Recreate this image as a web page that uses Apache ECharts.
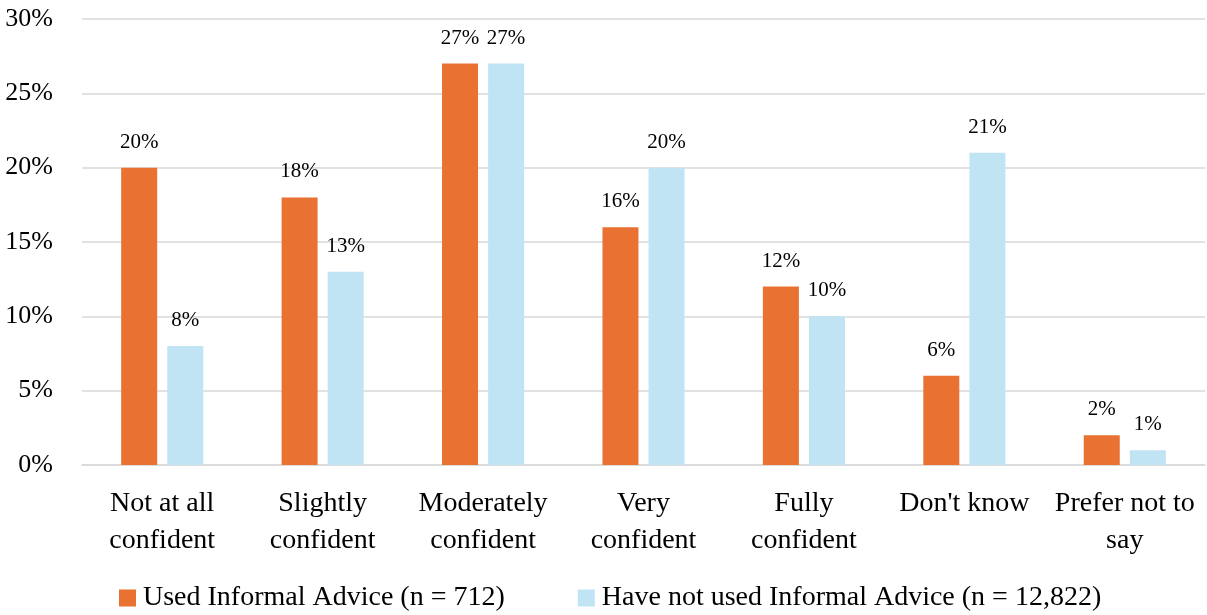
<!DOCTYPE html>
<html>
<head>
<meta charset="utf-8">
<script src="https://cdn.jsdelivr.net/npm/echarts@6/dist/echarts.min.js"></script>
<style>html,body{margin:0;padding:0;background:#fff;}#c{width:1207px;height:615px;}</style>
</head>
<body>
<div id="c"></div>
<script>
const categories = ["Not at all\nconfident", "Slightly\nconfident", "Moderately\nconfident", "Very\nconfident", "Fully\nconfident", "Don't know", "Prefer not to\nsay"];
const seriesNames = ["Used Informal Advice (n = 712)", "Have not used Informal Advice (n = 12,822)"];
const usedValues = [20, 18, 27, 16, 12, 6, 2];
const notUsedValues = [8, 13, 27, 20, 10, 21, 1];
const yTicks = [0, 5, 10, 15, 20, 25, 30];

const FONT = '"Liberation Serif", serif';
const chart = echarts.init(document.getElementById('c'), null, {renderer: 'canvas'});
const labelCfg = {show: true, position: 'top', distance: 15, fontFamily: FONT, fontSize: 21, color: '#000', formatter: p => p.value + '%'};
chart.setOption({
  animation: false,
  textStyle: {fontFamily: FONT},
  grid: {left: 82, right: 2, top: 19, bottom: 150, containLabel: false},
  legend: {
    top: 583, left: 119, padding: 0,
    itemWidth: 17, itemHeight: 17, itemGap: 73,
    textStyle: {fontFamily: FONT, fontSize: 28, lineHeight: 30, color: '#000', padding: [0, 0, 0, 2]},
    data: seriesNames.map(n => ({name: n, icon: 'rect'}))
  },
  xAxis: {
    type: 'category', data: categories,
    axisLine: {show: true, lineStyle: {color: '#D9D9D9', width: 1.5}},
    axisTick: {show: false},
    axisLabel: {fontFamily: FONT, fontSize: 28, color: '#000', lineHeight: 37, margin: 20, interval: 0}
  },
  yAxis: {
    type: 'value', min: yTicks[0], max: yTicks[yTicks.length - 1], interval: 5,
    axisLine: {show: false}, axisTick: {show: false},
    splitLine: {lineStyle: {color: '#D9D9D9', width: 1.5}},
    axisLabel: {fontFamily: FONT, fontSize: 26, color: '#000', margin: 29, formatter: v => v + '%'}
  },
  series: [
    {name: seriesNames[0], type: 'bar', data: usedValues, barWidth: 36, barGap: '28%', itemStyle: {color: '#E97132'}, label: labelCfg},
    {name: seriesNames[1], type: 'bar', data: notUsedValues, barWidth: 36, itemStyle: {color: '#C1E4F5'}, label: labelCfg}
  ]
});
</script>
</body>
</html>
